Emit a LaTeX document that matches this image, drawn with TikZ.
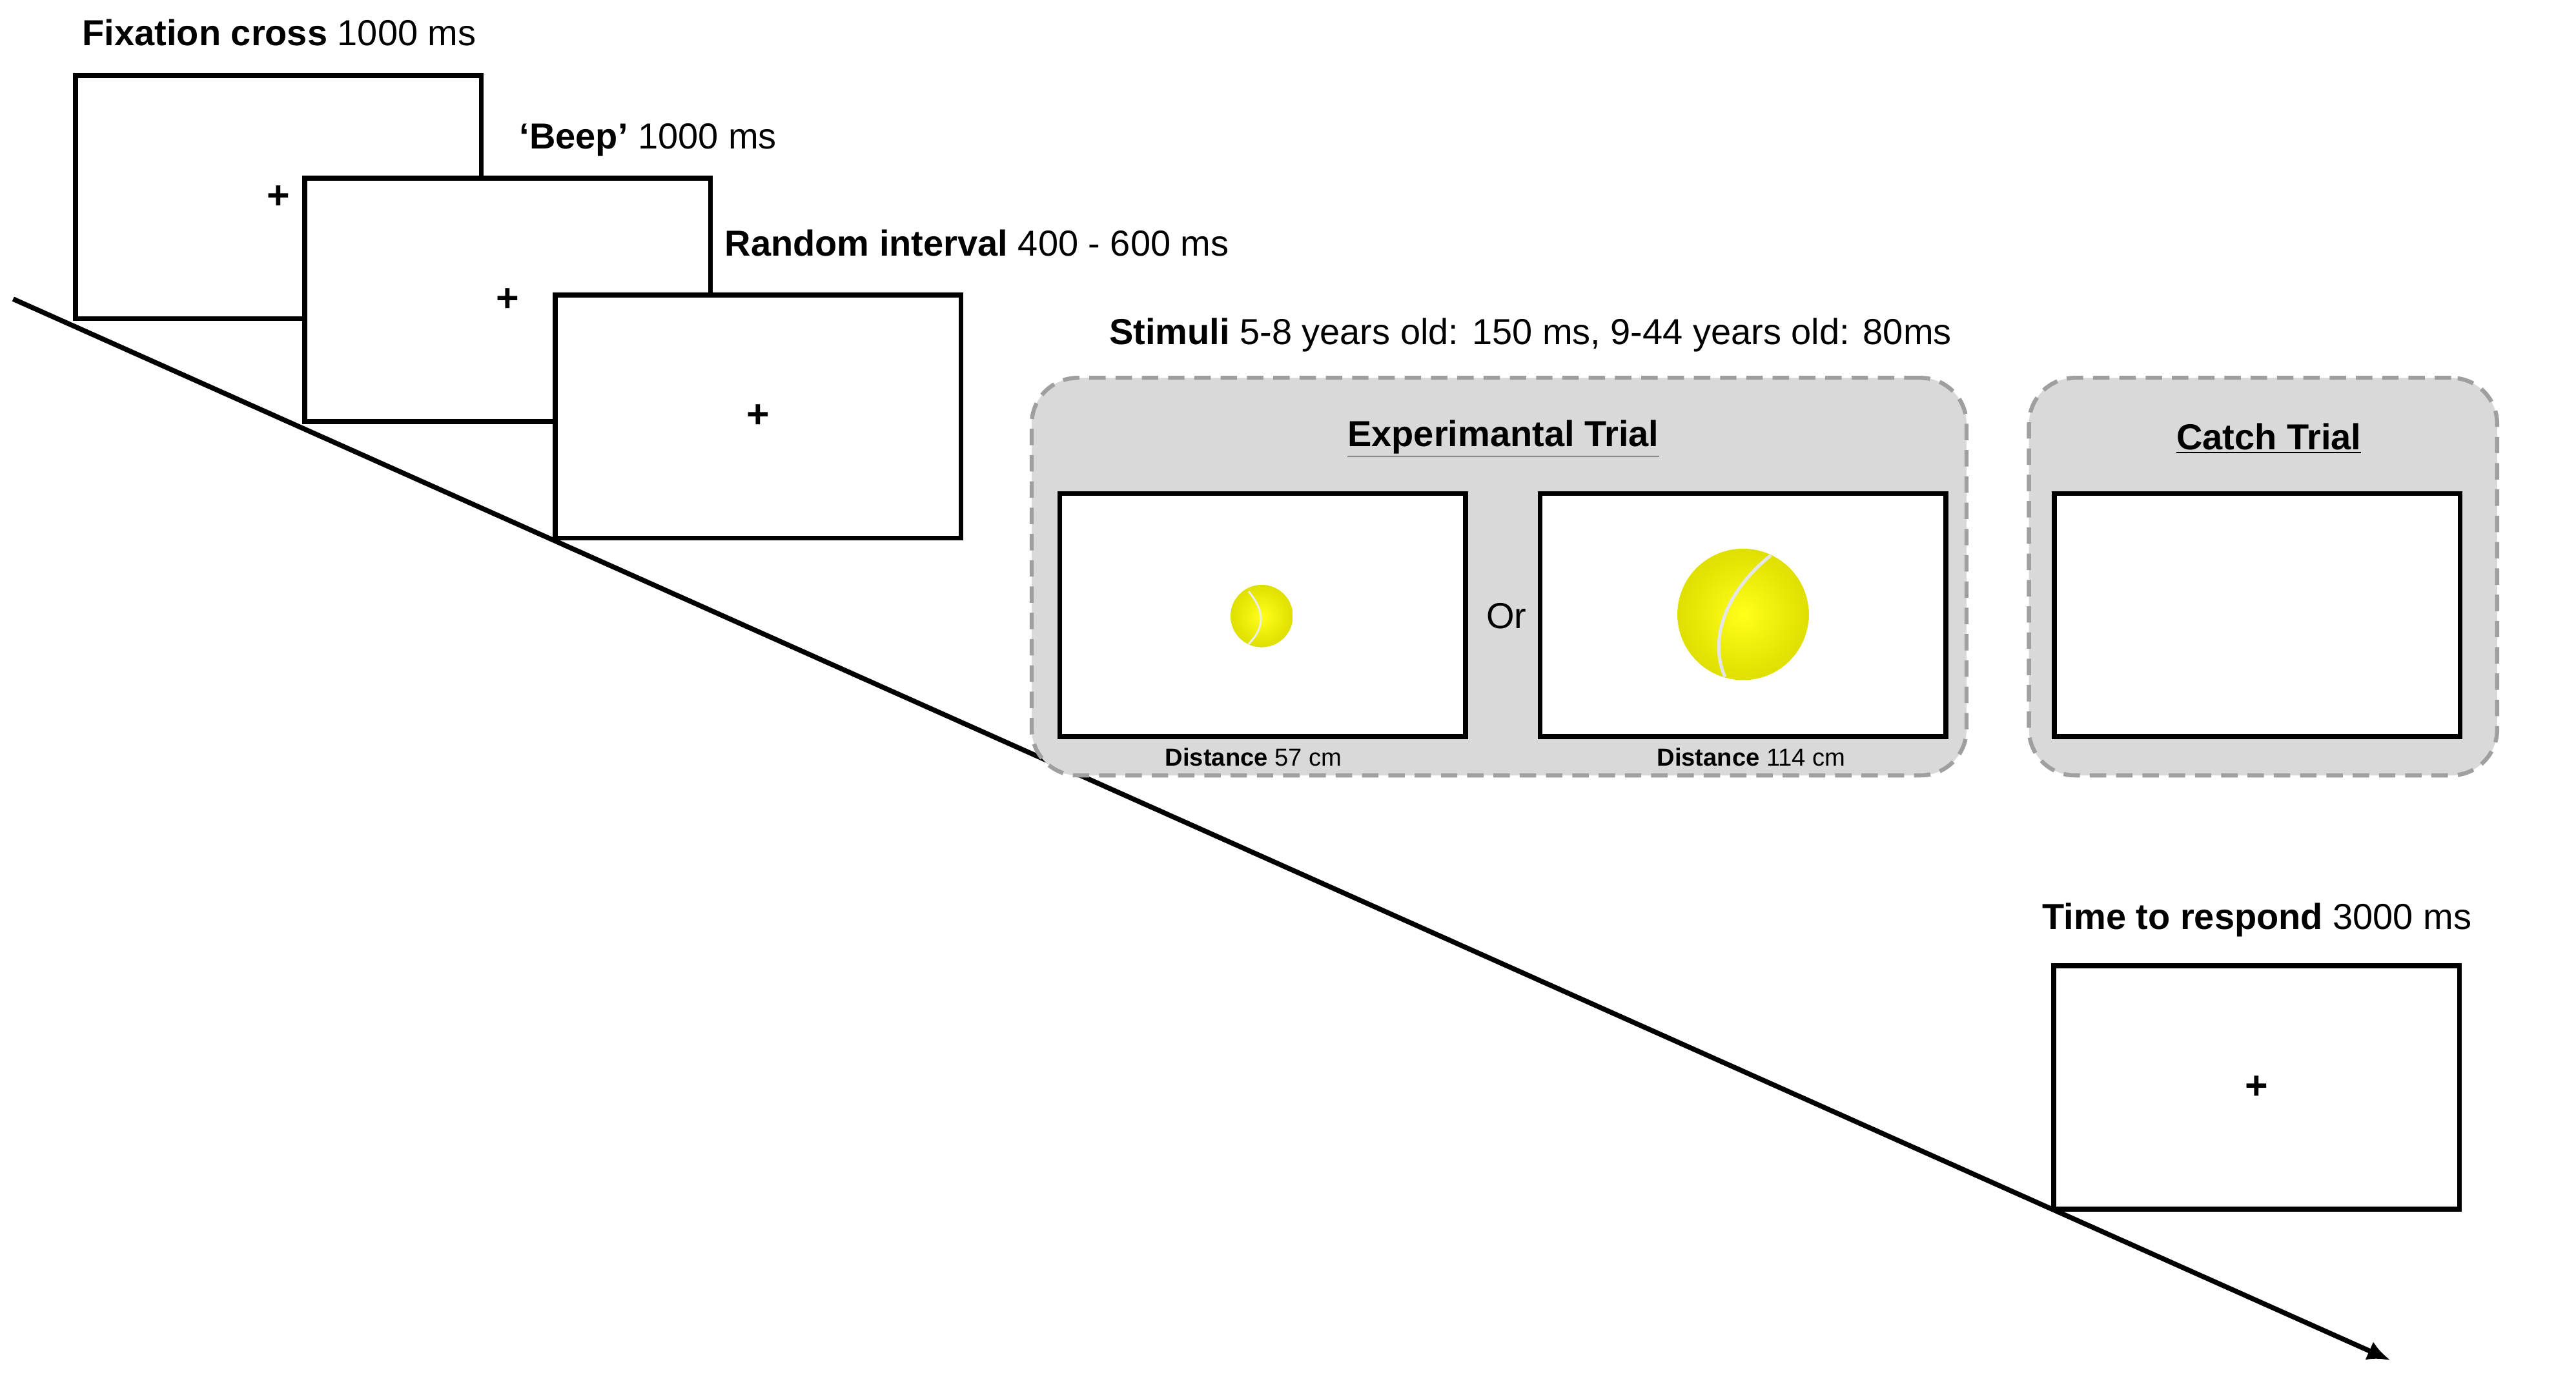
\documentclass[tikz,border=0pt]{standalone}
\usepackage{fontspec}
\setmainfont{Liberation Sans}
\usetikzlibrary{arrows.meta}
\begin{document}
\begin{tikzpicture}[x=1pt,y=-1pt,
  screen/.style={draw=black,line width=3pt,fill=white,minimum width=247pt,minimum height=148pt,inner sep=0pt},
  lbl/.style={anchor=west,inner sep=0pt,font=\fontsize{22}{26}\selectfont},
  small/.style={inner sep=0pt,font=\fontsize{15}{18}\selectfont},
  panel/.style={draw=gray!75,dashed,dash pattern=on 10pt off 6pt,line width=2.5pt,fill=gray!30,rounded corners=28pt,inner sep=0pt},
  plus/.style={inner sep=0pt,font=\fontsize{24}{28}\selectfont\bfseries}]
\useasboundingbox (0,0) rectangle (1568,838);
\coordinate (ts) at (8,182);
\coordinate (te) at (1455,828);
\draw[line width=3pt,-{Latex[length=14pt,width=12pt]}] (ts) -- (te);
% screens
\node[screen] (b1) at (169.5,120) {};
\node[plus] at (b1.center) {+};
\node[screen] (b2) at (309,182.5) {};
\node[plus] at (b2.center) {+};
\node[screen] (b3) at (461.5,253.5) {};
\node[plus] at (b3.center) {+};
\node[lbl] (l1) at (50,20) {\textbf{Fixation cross} 1000 ms};
\node[lbl] (l2) at (316,85) {\textbf{‘Beep’} 1000 ms};
\node[lbl] (l3) at (441,148) {\textbf{Random interval} 400 - 600 ms};
\node[lbl] (l4) at (675,204) {\textbf{Stimuli} 5-8 years old: 150 ms, 9-44 years old: 80ms};
% panels
\node[panel,minimum width=569pt,minimum height=242pt] (p1) at (912.5,351) {};
\node[panel,minimum width=285pt,minimum height=242pt] (p2) at (1377.5,351) {};
\node[lbl,anchor=center] at (915,267) {\underline{\textbf{Experimantal Trial}}};
\node[lbl,anchor=center] at (1381,267) {\underline{\textbf{Catch Trial}}};
\node[screen] (s1) at (768.5,374.5) {};
\node[screen] (s2) at (1061,374.5) {};
\node[screen] (s3) at (1374,374.5) {};
\node[lbl,anchor=center] (or) at (917,375) {Or};
\node[small] at (763,461) {\textbf{Distance} 57 cm};
\node[small] at (1066,461) {\textbf{Distance} 114 cm};
% balls
\shade[inner color=yellow!90!white,outer color=yellow!75!olive] (768,375) circle (19);
\draw[white!85!gray,line width=1.2pt] (760,360) .. controls (770,372) and (770,382) .. (760,392);
\shade[inner color=yellow!90!white,outer color=yellow!75!olive] (1061,374) circle (40);
\draw[white!80!gray,line width=2pt] (1078,338) .. controls (1050,360) and (1040,390) .. (1050,412);
% last
\node[lbl] (l5) at (1243,560) {\textbf{Time to respond} 3000 ms};
\node[screen] (b4) at (1373.5,662) {};
\node[plus] at (b4.center) {+};
\end{tikzpicture}
\end{document}
